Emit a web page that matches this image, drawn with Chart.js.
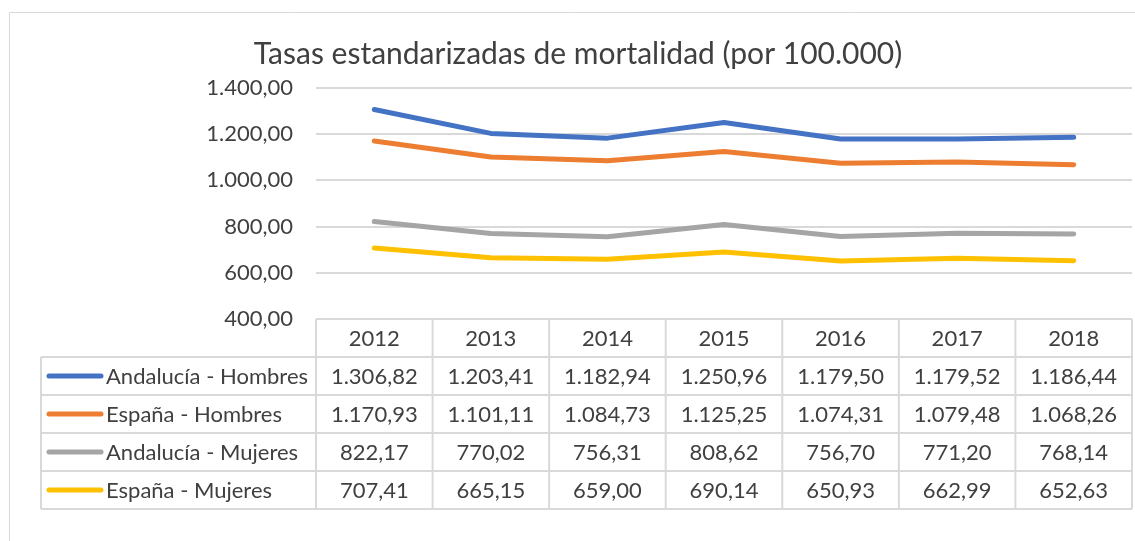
<!DOCTYPE html>
<html>
<head>
<meta charset="utf-8">
<script src="https://cdn.jsdelivr.net/npm/chart.js@4"></script>
<style>
  html, body { margin: 0; padding: 0; background: #fff; }
  #wrap { width: 1135px; height: 541px; }
</style>
</head>
<body>
<div id="wrap"><canvas id="chart" width="1135" height="541"></canvas></div>
<script>
/***********************
 * DATA
 ***********************/
const years = ["2012", "2013", "2014", "2015", "2016", "2017", "2018"];
const andaluciaHombres = [1306.82, 1203.41, 1182.94, 1250.96, 1179.50, 1179.52, 1186.44];
const espanaHombres = [1170.93, 1101.11, 1084.73, 1125.25, 1074.31, 1079.48, 1068.26];
const andaluciaMujeres = [822.17, 770.02, 756.31, 808.62, 756.70, 771.20, 768.14];
const espanaMujeres = [707.41, 665.15, 659.00, 690.14, 650.93, 662.99, 652.63];
const seriesNames = ["Andalucía - Hombres", "España - Hombres", "Andalucía - Mujeres", "España - Mujeres"];
const seriesColors = ["#4472C4", "#ED7D31", "#A5A5A5", "#FFC000"];
const yMin = 400, yMax = 1400, yStep = 200;
const titleText = "Tasas estandarizadas de mortalidad (por 100.000)";

const FONT = "Lato, 'Open Sans', sans-serif";
const TEXT = "#404040";
const GRID = "#d9d9d9";

/***********************
 * Helpers
 ***********************/
// 1400 -> "1.400,00"
function fmt(v) {
  const parts = Number(v).toFixed(2).split(".");
  const int = parts[0].replace(/\B(?=(\d{3})+(?!\d))/g, ".");
  return int + "," + parts[1];
}

/***********************
 * Data table + title plugin
 ***********************/
const tablePlugin = {
  id: "dataTable",
  afterDraw(chart) {
    const ctx = chart.ctx;
    const x = chart.scales.x;
    const area = chart.chartArea;
    const n = years.length;
    const colW = (area.right - area.left) / n;
    const rowH = 38;
    const top = area.bottom;
    const legendLeft = 41;

    ctx.save();

    // outer chart border
    ctx.strokeStyle = GRID;
    ctx.lineWidth = 1;
    ctx.beginPath();
    ctx.moveTo(9.5, 541);
    ctx.lineTo(9.5, 12.5);
    ctx.lineTo(1135, 12.5);
    ctx.stroke();

    // title
    ctx.fillStyle = TEXT;
    ctx.font = "30px " + FONT;
    ctx.textAlign = "center";
    ctx.textBaseline = "middle";
    ctx.fillText(titleText, 578, 54);

    // table grid
    ctx.strokeStyle = GRID;
    ctx.lineWidth = 2;
    ctx.beginPath();
    ctx.moveTo(area.left, top);
    ctx.lineTo(area.right, top);
    for (let r = 1; r <= seriesNames.length + 1; r++) {
      const yy = top + r * rowH;
      ctx.moveTo(legendLeft, yy);
      ctx.lineTo(area.right, yy);
    }
    for (let c = 0; c <= n; c++) {
      const xx = area.left + c * colW;
      ctx.moveTo(xx, top);
      ctx.lineTo(xx, top + (seriesNames.length + 1) * rowH);
    }
    ctx.moveTo(legendLeft, top + rowH);
    ctx.lineTo(legendLeft, top + (seriesNames.length + 1) * rowH);
    ctx.stroke();

    // header years
    ctx.font = "22px " + FONT;
    ctx.fillStyle = TEXT;
    ctx.textAlign = "center";
    years.forEach((yr, i) => {
      ctx.fillText(yr, x.getPixelForValue(i), top + rowH / 2 + 1);
    });

    // rows
    chart.data.datasets.forEach((ds, r) => {
      const cy = top + (r + 1) * rowH + rowH / 2 + 1;
      // legend key
      ctx.strokeStyle = ds.borderColor;
      ctx.lineWidth = 5;
      ctx.lineCap = "round";
      ctx.beginPath();
      ctx.moveTo(49, cy - 1);
      ctx.lineTo(101, cy - 1);
      ctx.stroke();
      ctx.fillStyle = TEXT;
      ctx.textAlign = "left";
      ctx.fillText(ds.label, 106, cy);
      ctx.textAlign = "center";
      ds.data.forEach((v, i) => {
        ctx.fillText(fmt(v), x.getPixelForValue(i), cy);
      });
    });

    ctx.restore();
  },
};

/***********************
 * Chart
 ***********************/
const allSeries = [andaluciaHombres, espanaHombres, andaluciaMujeres, espanaMujeres];

new Chart(document.getElementById("chart"), {
  type: "line",
  data: {
    labels: years,
    datasets: allSeries.map((d, i) => ({
      label: seriesNames[i],
      data: d,
      borderColor: seriesColors[i],
      backgroundColor: seriesColors[i],
      borderWidth: 5,
      borderCapStyle: "round",
      borderJoinStyle: "round",
      pointRadius: 0,
      tension: 0,
    })),
  },
  options: {
    responsive: false,
    animation: false,
    layout: { padding: { left: 0, top: 88, right: 3, bottom: 222 } },
    plugins: {
      legend: { display: false },
      title: { display: false },
      tooltip: { enabled: false },
    },
    scales: {
      x: {
        display: false,
        offset: true,
      },
      y: {
        min: yMin,
        max: yMax,
        afterFit: (s) => { s.width = 316; },
        border: { display: false },
        grid: { color: GRID, lineWidth: 2, drawTicks: false },
        ticks: {
          stepSize: yStep,
          padding: 23,
          color: TEXT,
          font: { family: FONT, size: 22 },
          callback: (v) => fmt(v),
        },
      },
    },
  },
  plugins: [tablePlugin],
});
</script>
</body>
</html>
